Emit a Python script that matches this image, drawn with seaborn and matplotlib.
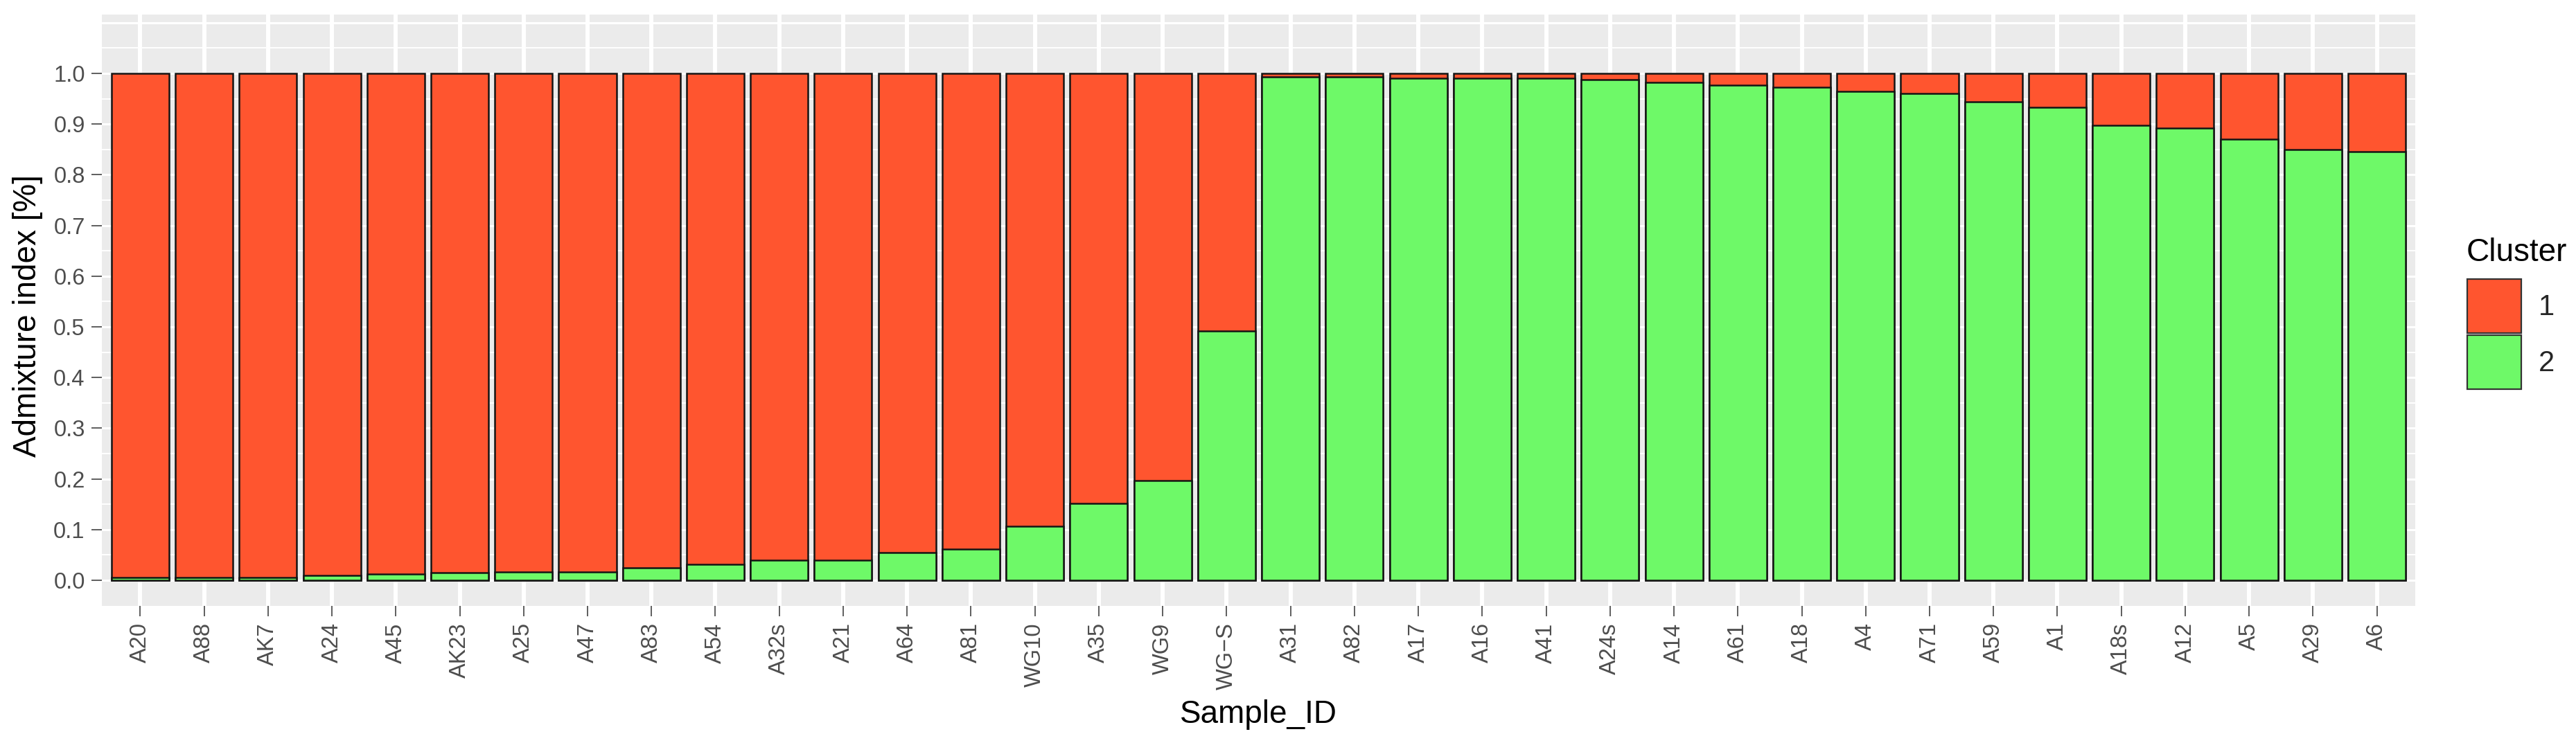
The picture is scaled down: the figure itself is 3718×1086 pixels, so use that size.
import numpy as np
import pandas as pd
import matplotlib
matplotlib.use("Agg")
import matplotlib.pyplot as plt
from matplotlib.patches import Patch
from matplotlib.ticker import FixedLocator
import seaborn as sns

# ---------------- data ----------------
sample_ids = ["A20", "A88", "AK7", "A24", "A45", "AK23", "A25", "A47", "A83", "A54",
              "A32s", "A21", "A64", "A81", "WG10", "A35", "WG9", "WG\u2212S",
              "A31", "A82", "A17", "A16", "A41", "A24s", "A14", "A61", "A18", "A4",
              "A71", "A59", "A1", "A18s", "A12", "A5", "A29", "A6"]
cluster1 = [0.994, 0.995, 0.995, 0.991, 0.988, 0.985, 0.983, 0.983, 0.975, 0.969,
            0.960, 0.960, 0.945, 0.938, 0.894, 0.849, 0.803, 0.508,
            0.007, 0.007, 0.010, 0.010, 0.010, 0.012, 0.018, 0.024, 0.028, 0.036,
            0.040, 0.056, 0.067, 0.102, 0.108, 0.130, 0.151, 0.154]
cluster2 = [0.006, 0.005, 0.005, 0.009, 0.012, 0.015, 0.017, 0.017, 0.025, 0.031,
            0.040, 0.040, 0.055, 0.062, 0.106, 0.151, 0.197, 0.492,
            0.993, 0.993, 0.990, 0.990, 0.990, 0.988, 0.982, 0.976, 0.972, 0.964,
            0.960, 0.944, 0.933, 0.898, 0.892, 0.870, 0.849, 0.846]
cluster_labels = ["1", "2"]
y_ticks = [0.0, 0.1, 0.2, 0.3, 0.4, 0.5, 0.6, 0.7, 0.8, 0.9, 1.0]

RED = "#FF552F"
GREEN = "#6EF968"
PANEL = "#EBEBEB"

df = pd.DataFrame({"Sample_ID": sample_ids, "1": cluster1, "2": cluster2})
df["top"] = df["1"] + df["2"]

# ---------------- figure ----------------
sns.set_theme(style="white")
plt.rcParams["font.family"] = ["Liberation Sans", "DejaVu Sans"]

W, H = 3718, 1086
fig = plt.figure(figsize=(W / 100, H / 100), dpi=100)
ax = fig.add_axes([147 / W, 1 - 875 / H, (3486 - 147) / W, (875 - 21) / H])
ax.set_facecolor(PANEL)
ax.set_axisbelow(True)

bar_kw = dict(order=sample_ids, width=0.9, saturation=1, errorbar=None,
              edgecolor="#141414", linewidth=1.8, ax=ax)
sns.barplot(data=df, x="Sample_ID", y="top", color=RED, **bar_kw)
sns.barplot(data=df, x="Sample_ID", y="2", color=GREEN, **bar_kw)

# ---------------- axes styling (ggplot grey theme look) ----------------
n = len(sample_ids)
ax.set_xlim(-0.6, n - 1 + 0.6)
ax.set_ylim(-0.0505, 1.116)

ax.yaxis.set_major_locator(FixedLocator(y_ticks))
ax.set_yticklabels([f"{v:.1f}" for v in y_ticks])
ax.yaxis.set_minor_locator(FixedLocator(list(np.arange(0.05, 1.1, 0.1))))

ax.xaxis.grid(True, which="major", color="white", linewidth=4.3)
ax.yaxis.grid(True, which="major", color="white", linewidth=2.2)
ax.yaxis.grid(True, which="minor", color="white", linewidth=1.4)
ax.axhline(1.1, color="white", linewidth=2.2, zorder=0.5)

for s in ax.spines.values():
    s.set_visible(False)

ax.tick_params(axis="both", which="major", length=10.5, width=1.1,
               color="#333333", labelcolor="#4D4D4D", labelsize=23.5, pad=7,
               bottom=True, left=True)
ax.tick_params(axis="y", which="minor", length=0)
plt.setp(ax.get_xticklabels(), rotation=90, ha="center", va="top")

ax.set_xlabel("Sample_ID", fontsize=33, color="black")
ax.set_ylabel("Admixture index [%]", fontsize=33, color="black")
ax.xaxis.set_label_coords(0.5, -(1010 - 875) / 854)
ax.yaxis.set_label_coords(-(147 - 62) / 3339, 0.49)

# ---------------- legend ----------------
fig.text(3560 / W, 1 - 377 / H, "Cluster", fontsize=33, color="black",
         ha="left", va="baseline")
handles = [Patch(facecolor=RED, edgecolor="#333333", linewidth=1.6),
           Patch(facecolor=GREEN, edgecolor="#333333", linewidth=1.6)]
leg = fig.legend(handles, cluster_labels,
                 loc="upper left", bbox_to_anchor=(3561 / W, 1 - 403 / H),
                 frameon=False, fontsize=30,
                 handlelength=1.87, handleheight=2.5, labelspacing=0.07,
                 handletextpad=0.6, borderpad=0, borderaxespad=0)

fig.savefig("out.png", dpi=100)
